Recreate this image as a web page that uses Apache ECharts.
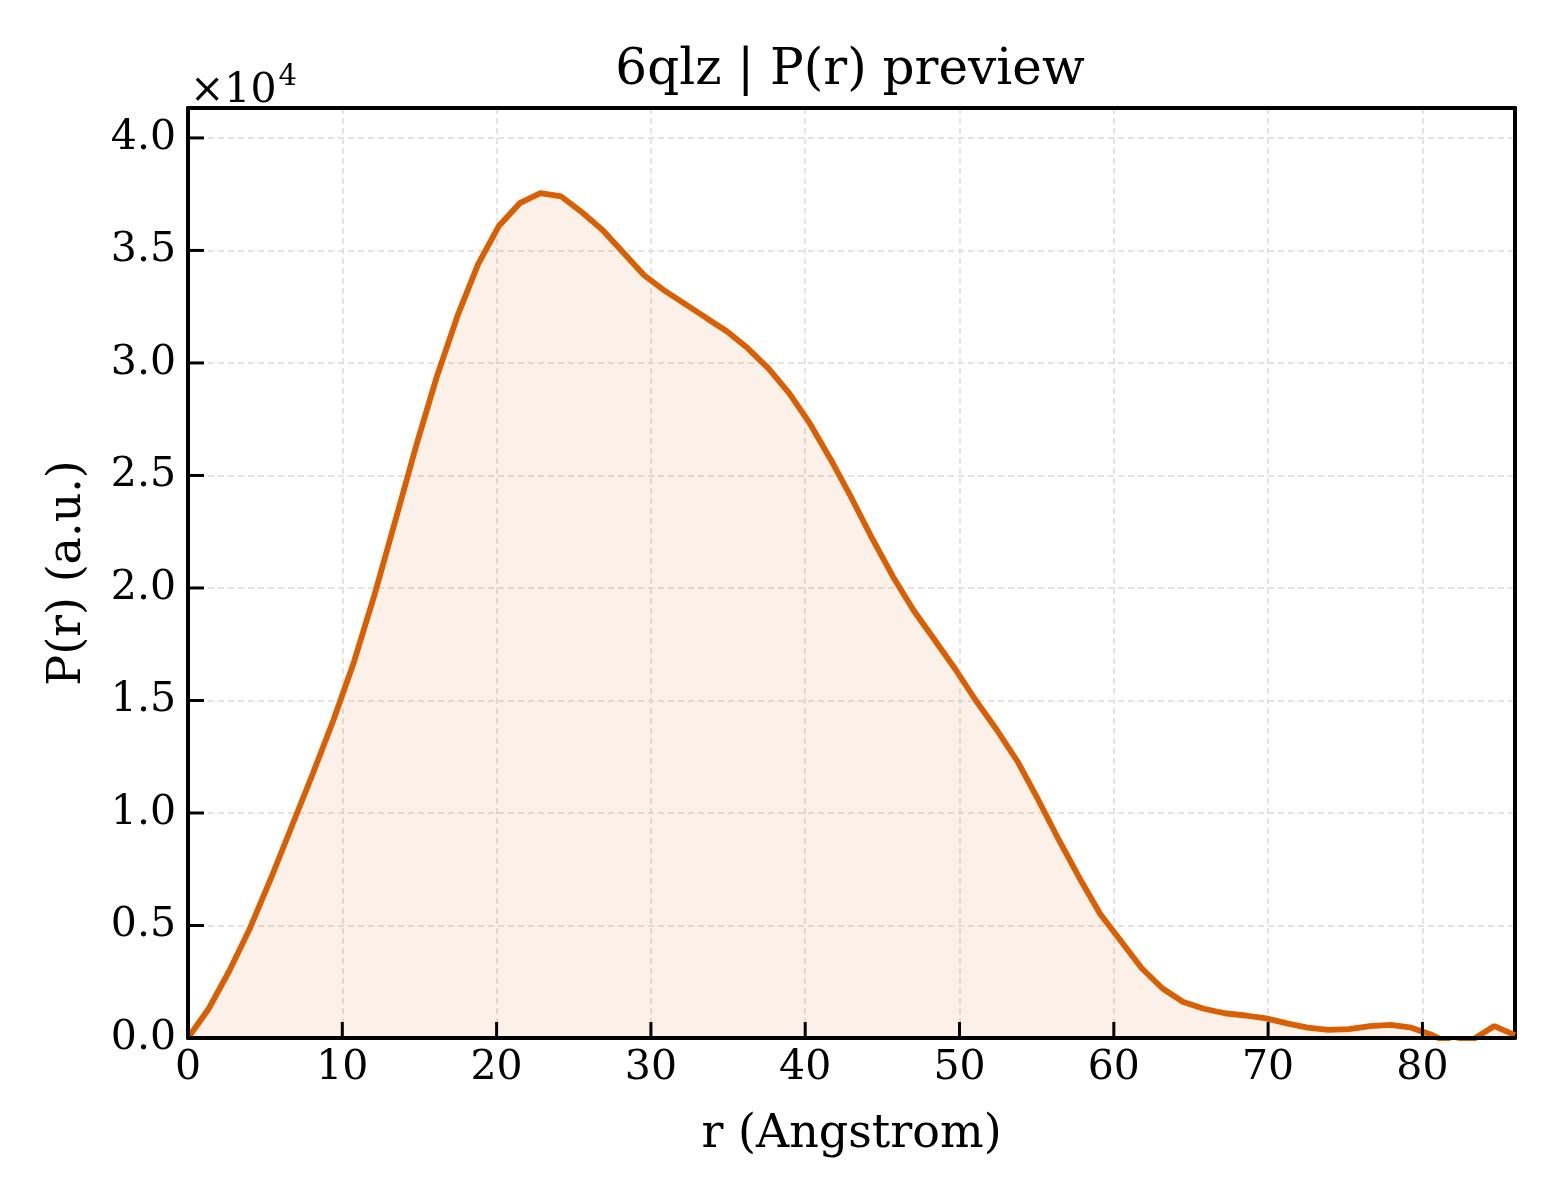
<!DOCTYPE html>
<html>
<head>
<meta charset="utf-8">
<script src="https://cdn.jsdelivr.net/npm/echarts@6/dist/echarts.min.js"></script>
<style>
html,body{margin:0;padding:0;background:#fff;}
#chart{width:1560px;height:1200px;}
</style>
</head>
<body>
<div id="chart"></div>
<script>
const titleText = "6qlz | P(r) preview";
const xLabel = "r (Angstrom)";
const yLabel = "P(r) (a.u.)";
const rValues = [0,1.34,2.69,4.03,5.38,6.72,8.06,9.41,10.75,12.09,13.44,14.78,16.13,17.47,18.81,20.16,21.5,22.84,24.19,25.53,26.88,28.22,29.56,30.91,32.25,33.59,34.94,36.28,37.63,38.97,40.31,41.66,43.0,44.34,45.69,47.03,48.38,49.72,51.06,52.41,53.75,55.09,56.44,57.78,59.13,60.47,61.81,63.16,64.5,65.84,67.19,68.53,69.88,71.22,72.56,73.91,75.25,76.59,77.94,79.28,80.63,81.97,83.31,84.66,86.0];
const prValues = [0,1300,3000,4900,7100,9400,11700,14100,16700,19700,23000,26300,29400,32100,34400,36100,37100,37550,37400,36700,35900,34900,33900,33200,32600,32000,31400,30650,29750,28650,27300,25700,24000,22200,20500,19000,17700,16400,15000,13700,12300,10600,8800,7100,5500,4300,3100,2200,1600,1300,1100,1000,870,650,460,360,390,530,580,460,130,-300,-50,530,130];
const xTicks = [0,10,20,30,40,50,60,70,80];
const yTicks = [0,5000,10000,15000,20000,25000,30000,35000,40000];
const xMin = 0, xMax = 86, xStep = 10;
const yMin = 0, yMax = 41330, yStep = 5000;

const chart = echarts.init(document.getElementById('chart'));
const FONT = 'DejaVu Serif';
const data = rValues.map((r, i) => [r, prValues[i]]);
const gridLine = {show: true, lineStyle: {color: '#dcdcdc', width: 1.5, type: [6, 4]}};
const frameAxis = {
  z: 0,
  axisLine: {show: true, onZero: false, lineStyle: {color: '#000', width: 4}},
  axisTick: {show: false}, axisLabel: {show: false}, splitLine: gridLine
};
chart.setOption({
  animation: false,
  backgroundColor: '#ffffff',
  title: [
    {text: titleText, left: 845, top: 41, textAlign: 'center',
     textStyle: {fontFamily: FONT, fontSize: 50, fontWeight: 'normal', color: '#000'}},
    {text: '{a|×10}{b|4}', left: 185, top: 58,
     textStyle: {fontWeight: 'normal', rich: {
       a: {fontFamily: FONT, fontSize: 41, fontWeight: 'normal', color: '#000', verticalAlign: 'bottom'},
       b: {fontFamily: FONT, fontSize: 29, fontWeight: 'normal', color: '#000', verticalAlign: 'top', padding: [0,0,20,2]}
     }}}
  ],
  grid: {left: 188, right: 45, top: 108, bottom: 162, containLabel: false},
  xAxis: [{
    type: 'value', min: xMin, max: xMax, interval: xStep, position: 'bottom', z: 5,
    name: xLabel, nameLocation: 'middle', nameGap: 74,
    nameTextStyle: {fontFamily: FONT, fontSize: 46, color: '#000'},
    axisLine: {show: true, onZero: false, lineStyle: {color: '#000', width: 4}},
    axisTick: {show: false},
    axisLabel: {show: true, fontFamily: FONT, fontSize: 41, color: '#000', margin: 10, showMaxLabel: false,
      formatter: v => (v % xStep === 0 ? String(v) : '')},
    splitLine: {show: false}
  }, Object.assign({type: 'value', min: xMin, max: xMax, interval: xStep, position: 'top'}, frameAxis)],
  yAxis: [{
    type: 'value', min: yMin, max: yMax, interval: yStep, position: 'left', z: 5,
    name: yLabel, nameLocation: 'middle', nameGap: 97, nameRotate: 90,
    nameTextStyle: {fontFamily: FONT, fontSize: 46, color: '#000'},
    axisLine: {show: true, onZero: false, lineStyle: {color: '#000', width: 4}},
    axisTick: {show: false},
    axisLabel: {show: true, fontFamily: FONT, fontSize: 41, color: '#000', margin: 12, showMaxLabel: false,
      formatter: v => (v % yStep === 0 ? (v / 10000).toFixed(1) : '')},
    splitLine: {show: false}
  }, Object.assign({type: 'value', min: yMin, max: yMax, interval: yStep, position: 'right'}, frameAxis)],
  series: [{
    type: 'line', data: data, xAxisIndex: 0, yAxisIndex: 0,
    showSymbol: false, clip: true, z: 3,
    lineStyle: {color: '#d95f02', width: 5.8},
    itemStyle: {color: '#d95f02'},
    areaStyle: {color: 'rgba(217,95,2,0.13)', origin: 'start'}
  }, {
    type: 'custom', z: 10, silent: true, clip: false, xAxisIndex: 0, yAxisIndex: 0,
    data: xTicks.map(v => [v, yMin]),
    renderItem: (params, api) => {
      const p = api.coord([api.value(0), api.value(1)]);
      return {type: 'line', shape: {x1: p[0], y1: p[1], x2: p[0], y2: p[1] - 16},
              style: {stroke: '#000', lineWidth: 3}};
    }
  }, {
    type: 'custom', z: 10, silent: true, clip: false, xAxisIndex: 0, yAxisIndex: 0,
    data: yTicks.map(v => [xMin, v]),
    renderItem: (params, api) => {
      const p = api.coord([api.value(0), api.value(1)]);
      return {type: 'line', shape: {x1: p[0], y1: p[1], x2: p[0] + 16, y2: p[1]},
              style: {stroke: '#000', lineWidth: 3}};
    }
  }]
});
</script>
</body>
</html>
